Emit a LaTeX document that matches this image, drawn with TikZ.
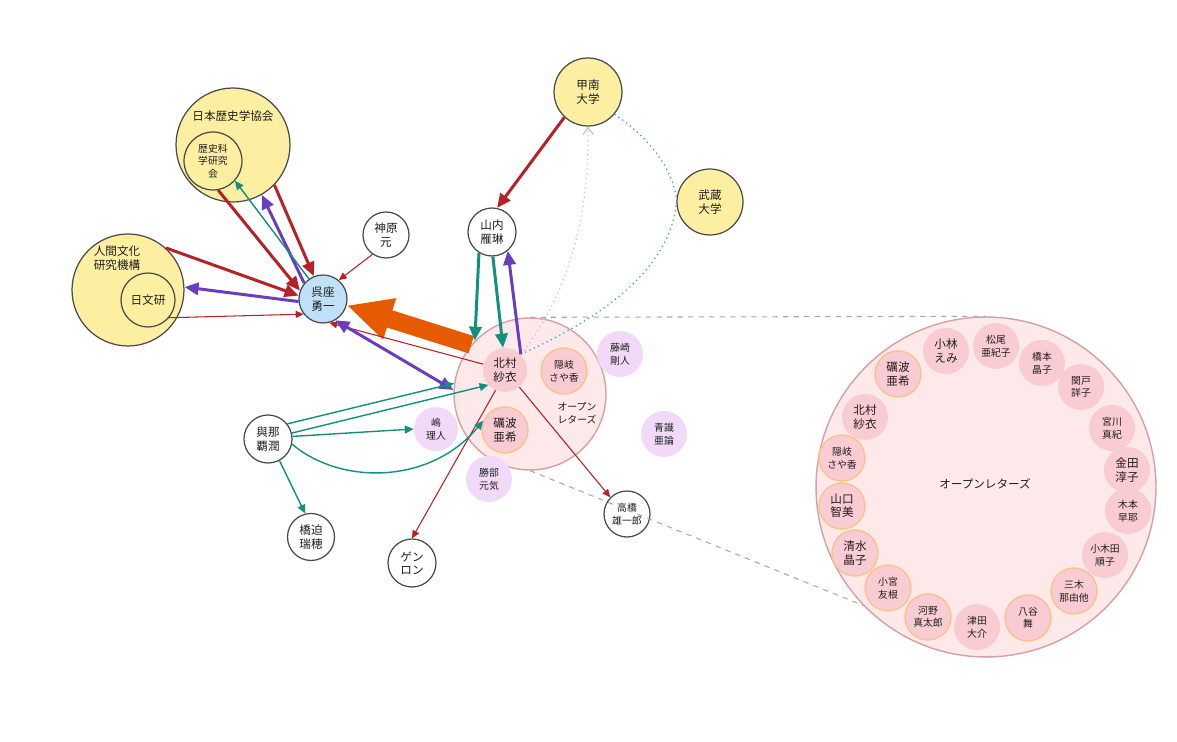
\documentclass[tikz,border=0pt]{standalone}
\usepackage{fontspec}
\setmainfont{Noto Sans CJK JP}
\usetikzlibrary{arrows.meta}

\definecolor{txt}{HTML}{1E1E1E}
\definecolor{edge}{HTML}{4A4A4A}
\definecolor{orgyellow}{HTML}{FCEFA1}
\definecolor{gozablue}{HTML}{BEE1F7}
\definecolor{olpink}{HTML}{FDE8EA}
\definecolor{olborder}{HTML}{D6A0A6}
\definecolor{mempink}{HTML}{F9CBD2}
\definecolor{memedge}{HTML}{F6C58A}
\definecolor{fanlav}{HTML}{F1DAF8}
\definecolor{arrred}{HTML}{B72025}
\definecolor{arrpurple}{HTML}{6A3DBE}
\definecolor{arrteal}{HTML}{12907E}
\definecolor{arrorange}{HTML}{E65A00}
\definecolor{dotblue}{HTML}{3C92DA}
\definecolor{dotlav}{HTML}{C4BEE3}
\definecolor{zoomgray}{HTML}{A8A8A8}

\newcommand{\smalltxt}{\fontsize{5.6}{7.2}\selectfont}

\begin{document}
\begin{tikzpicture}[x=0.02cm,y=-0.02cm,
  every node/.style={font=\fontsize{6.6}{7.6}\selectfont,align=center,text=txt},
  org/.style={circle,draw=edge,line width=0.7pt,fill=orgyellow,inner sep=0pt},
  person/.style={circle,draw=edge,line width=0.7pt,fill=white,inner sep=0pt,minimum size=0.96cm},
  letters/.style={circle,draw=olborder,fill=olpink,line width=0.8pt,inner sep=0pt},
  fan/.style={circle,fill=fanlav,inner sep=0pt,minimum size=0.92cm,font=\smalltxt},
  mem/.style={circle,fill=mempink,inner sep=0pt,minimum size=0.92cm},
  mems/.style={mem,font=\smalltxt},
  memo/.style={mem,draw=memedge,line width=0.8pt},
  memos/.style={memo,font=\smalltxt},
  redthick/.style={draw=arrred,line width=1.7pt,-{Triangle[length=8pt,width=7pt]}},
  redthin/.style={draw=arrred,line width=0.6pt,-{Triangle[length=4.5pt,width=4pt]}},
  purplethick/.style={draw=arrpurple,line width=1.7pt,-{Triangle[length=8pt,width=7pt]}},
  tealthick/.style={draw=arrteal,line width=1.7pt,-{Triangle[length=8pt,width=7pt]}},
  tealthin/.style={draw=arrteal,line width=0.8pt,-{Triangle[length=5pt,width=4.5pt]}},
  bigarrow/.style={draw=arrorange,line width=0.36cm,-{Triangle[length=0.9cm,width=0.8cm]}},
  zoomline/.style={draw=zoomgray,line width=0.6pt,dashed}]
\useasboundingbox (0,0) rectangle (1177,742);

% organisations
\node[org,minimum size=2.28cm] (nrk) at (233,145) {};
\node (nrklabel) at (233,116) {日本歴史学協会};
\node[org,minimum size=1.16cm,font=\smalltxt] (rkk) at (213,161) {歴史科\\学研究\\会};
\node[org,minimum size=2.24cm] (nbk) at (128,290) {};
\node[align=left] (nbklabel) at (117,258) {人間文化\\研究機構};
\node[org,minimum size=1.08cm] (nichibun) at (148,300) {日文研};
\node[org,minimum size=1.36cm] (konan) at (588,92) {甲南\\大学};
\node[org,minimum size=1.32cm] (musashi) at (710,202) {武蔵\\大学};

% people
\node[person,fill=gozablue] (goza) at (323,299) {呉座\\勇一};
\node[person,minimum size=0.92cm] (kanbara) at (386,235) {神原\\元};
\node[person] (yamauchi) at (492,232) {山内\\雁琳};
\node[person] (yonaha) at (268,439) {與那\\覇潤};
\node[person,minimum size=0.94cm] (hashisako) at (311,537) {橋迫\\瑞穂};
\node[person] (genron) at (412,563) {ゲン\\ロン};
\node[person,minimum size=0.92cm,font=\smalltxt] (takahashi) at (627,514) {高橋\\雄一郎};

% open letters, small
\node[letters,minimum size=3.04cm] (ol) at (530,394) {};
\node[font=\smalltxt] (ollabel) at (577,413) {オープン\\レターズ};
\node[mem,minimum size=0.88cm] (kitamura) at (505,370) {北村\\紗衣};
\node[memos] (oki) at (564,371) {隠岐\\さや香};
\node[memo] (tonami) at (505,430) {礪波\\亜希};

\node[fan] (fujisaki) at (620,354) {藤崎\\剛人};
\node[fan] (seishiki) at (664,434) {青識\\亜論};
\node[fan] (katsube) at (489,479) {勝部\\元気};
\node[fan,minimum size=0.88cm] (shima) at (436,429) {嶋\\理人};

% open letters, large
\node[letters,minimum size=6.8cm] (OL) at (986,487) {};
\node (OLlabel) at (985,484) {オープンレターズ};
\foreach \x/\y/\t/\s [count=\i] in {
  946/351/小林\\えみ/mem, 996/346/松尾\\亜紀子/mems, 1042/363/橋本\\晶子/mems,
  1081/387/関戸\\詳子/mems, 1112/428/宮川\\真紀/mems, 1127/470/金田\\淳子/mem,
  1128/511/木本\\早耶/mems, 1105/555/小木田\\順子/mems, 1074/591/三木\\那由他/memos,
  1028/618/八谷\\舞/memos, 977/627/津田\\大介/mems, 928/617/河野\\真太郎/memos,
  888/588/小宮\\友根/memos, 855/553/清水\\晶子/memo, 842/506/山口\\智美/memo,
  842/458/隠岐\\さや香/memos, 865/417/北村\\紗衣/mem, 898/374/礪波\\亜希/memo}
  \node[\s] (m\i) at (\x,\y) {\t};

% zoom lines
\draw[zoomline] (ol.north) -- (OL.north);
\draw[zoomline] (ol.south) -- (OL.224);

% dotted links
\draw[draw=dotblue,line width=0.7pt,dotted] (kitamura.45) .. controls (620,310) and (670,260) .. (musashi.183);
\draw[draw=dotblue,line width=0.7pt,dotted] (konan.-40) .. controls (645,135) and (672,165) .. (musashi.175);
\draw[draw=dotlav,line width=0.7pt,dotted,-{Straight Barb[length=4pt,width=6pt]}] (kitamura.45) .. controls (565,300) and (590,220) .. (konan.-90);

% arrows
\draw[bigarrow] (ol.140) -- (goza.-15);
\draw[redthick] (nrk.-44) -- (goza.112);
\draw[redthick] (rkk.-80) -- (goza.160);
\draw[redthick] (nbk.48) -- (goza.172);
\draw[redthin] (nichibun.-40) -- (goza.218);
\draw[redthin] (kanbara.235) -- (goza.50);
\draw[redthick] (konan.227) -- (yamauchi.78);
\draw[redthin] (kitamura.165) -- (goza.-75);
\draw[redthin] (kitamura.-115) -- (genron.north);
\draw[redthin] (kitamura.-50) -- (takahashi.135);
\draw[purplethick] (goza.186) -- (nbk.3);
\draw[purplethick] (goza.140) -- (nrk.-60);
\draw[purplethick,{Triangle[length=8pt,width=7pt]}-{Triangle[length=8pt,width=7pt]}] (goza.-60) -- (ol.177);
\draw[purplethick] (kitamura.45) -- (yamauchi.-50);
\draw[tealthin] (goza.125) -- (rkk.-42);
\draw[tealthick] (yamauchi.238) -- (ol.136);
\draw[tealthick] (yamauchi.-88) -- (kitamura.95);
\draw[tealthin] (yonaha.38) -- (ol.172);
\draw[tealthin] (yonaha.14) -- (kitamura.222);
\draw[tealthin] (yonaha.6) -- (shima.west);
\draw[tealthin] (yonaha.-12) .. controls (340,485) and (430,485) .. (tonami.157);
\draw[tealthin] (yonaha.-62) -- (hashisako.104);
\end{tikzpicture}
\end{document}
